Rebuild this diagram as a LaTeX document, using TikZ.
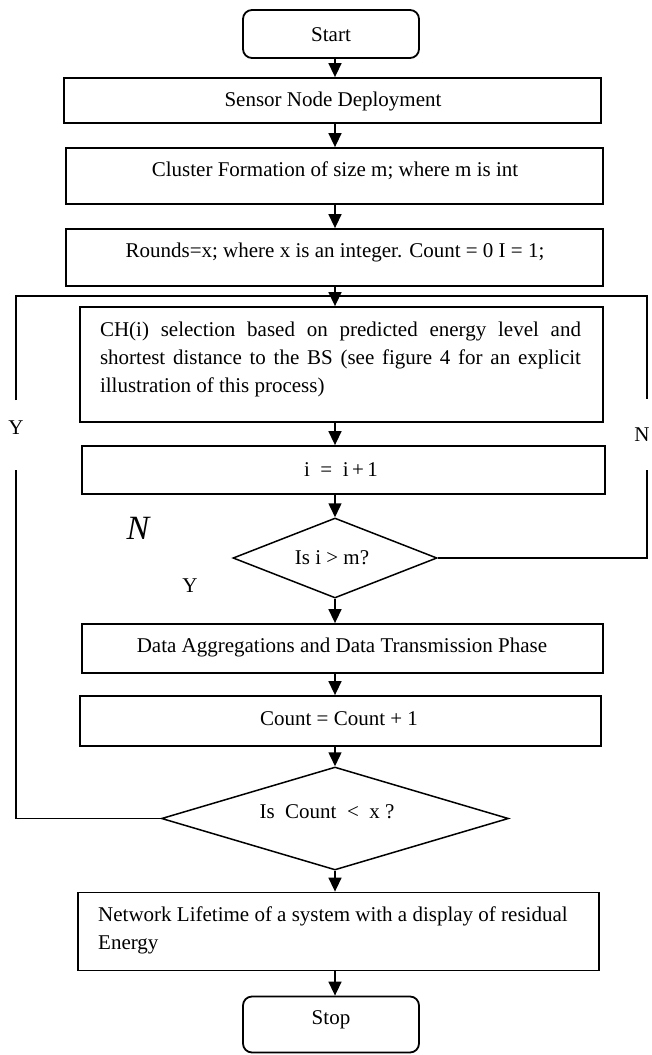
\documentclass[tikz,border=0pt]{standalone}
\usepackage{fontspec}
\setmainfont{Liberation Serif}
\usetikzlibrary{shapes.geometric,arrows.meta}
\begin{document}
\begin{tikzpicture}[x=1pt,y=-1pt,
  box/.style={draw,line width=1.8pt,inner sep=0pt,rectangle},
  term/.style={box,rounded corners=9pt},
  dia/.style={draw,line width=1.5pt,diamond,inner sep=0pt},
  txt/.style={inner sep=0pt,font=\fontsize{21}{28}\selectfont},
  arr/.style={line width=1.5pt,-{Triangle[width=13pt,length=14pt]}},
  loopline/.style={line width=1.3pt},
  lbl/.style={inner sep=0pt,font=\fontsize{21}{25}\selectfont}]
\useasboundingbox (0,0) rectangle (651,1055);
\coordinate (ax) at (335,0);
% boxes
\node[term,minimum width=176pt,minimum height=48pt] (start) at (331,34) {};
\node[box,minimum width=537pt,minimum height=45pt] (sensor) at (332.5,100.5) {};
\node[box,minimum width=537pt,minimum height=56pt] (cluster) at (334.5,176) {};
\node[box,minimum width=537pt,minimum height=57pt] (rounds) at (334.5,257.5) {};
\node[box,minimum width=523pt,minimum height=115pt] (ch) at (341.5,364.5) {};
\node[box,minimum width=523pt,minimum height=48pt] (inc) at (343.5,470) {};
\node[dia,minimum width=204pt,minimum height=80pt] (d1) at (335,558) {};
\node[box,minimum width=521pt,minimum height=49pt] (data) at (342.5,648.5) {};
\node[box,minimum width=521pt,minimum height=50pt] (count) at (340.5,721) {};
\node[dia,minimum width=347pt,minimum height=103pt] (d2) at (335,818.5) {};
\node[box,minimum width=521pt,minimum height=78pt] (nl) at (338.5,931.5) {};
\node[term,minimum width=176pt,minimum height=56pt] (stop) at (331,1024.5) {};
% texts
\node[txt] (startT) at (331,35) {Start};
\node[txt] (sensorT) at (333,101) {Sensor Node Deployment};
\node[txt] (clusterT) at (335,171) {Cluster Formation of size m; where m is int};
\node[txt] (roundsT) at (335,252) {Rounds=x; where x is an integer. Count = 0 I = 1;};
\node[txt,align=left] (chT) at (340.5,359.5) {\makebox[481pt][s]{CH(i) selection based on predicted energy level and}\\\makebox[481pt][s]{shortest distance to the BS (see figure 4 for an explicit}\\illustration of this process)};
\node[txt] (incT) at (341,470) {i \ = \ i\,+\,1};
\node[txt] (d1T) at (332,558) {Is i > m?};
\node[txt] (dataT) at (342,647) {Data Aggregations and Data Transmission Phase};
\node[txt] (countT) at (339,719) {Count = Count + 1};
\node[txt] (d2T) at (327,812) {Is \ Count \ < \ x ?};
\node[txt,align=left,anchor=west] (nlT) at (98,930.5) {Network Lifetime of a system with a display of residual\\Energy};
\node[txt] (stopT) at (331,1020) {Stop};
% arrows
\draw[arr] (start.south -| ax) -- (sensor.north -| ax);
\draw[arr] (sensor.south -| ax) -- (cluster.north -| ax);
\draw[arr] (cluster.south -| ax) -- (rounds.north -| ax);
\draw[arr] (rounds.south -| ax) -- (ch.north -| ax);
\draw[arr] (ch.south -| ax) -- (inc.north -| ax);
\draw[arr] (inc.south -| ax) -- (d1.north);
\draw[arr] (d1.south) -- (data.north -| ax);
\draw[arr] (data.south -| ax) -- (count.north -| ax);
\draw[arr] (count.south -| ax) -- (d2.north);
\draw[arr] (d2.south) -- (nl.north -| ax);
\draw[arr] (nl.south -| ax) -- (stop.north -| ax);
% loop lines
\coordinate (lb) at (16,818.5);
\coordinate (lg1) at (16,470);
\coordinate (lg2) at (16,400);
\coordinate (lt) at (16,296);
\coordinate (rt) at (647,296);
\coordinate (rg1) at (647,399);
\coordinate (rg2) at (647,470);
\coordinate (rb) at (647,558);
\draw[loopline] (d2.west) -- (lb) -- (lg1);
\draw[loopline] (lg2) -- (lt) -- (rt) -- (rg1);
\draw[loopline] (rg2) -- (rb) -- (d1.east);
% labels
\node[lbl] (yl) at (16,428) {Y};
\node[lbl] (nr) at (642,435) {N};
\node[inner sep=0pt,font=\fontsize{34}{40}\selectfont\itshape] (nbig) at (138,528) {N};
\node[lbl] (ys) at (190,586) {Y};
\end{tikzpicture}
\end{document}
